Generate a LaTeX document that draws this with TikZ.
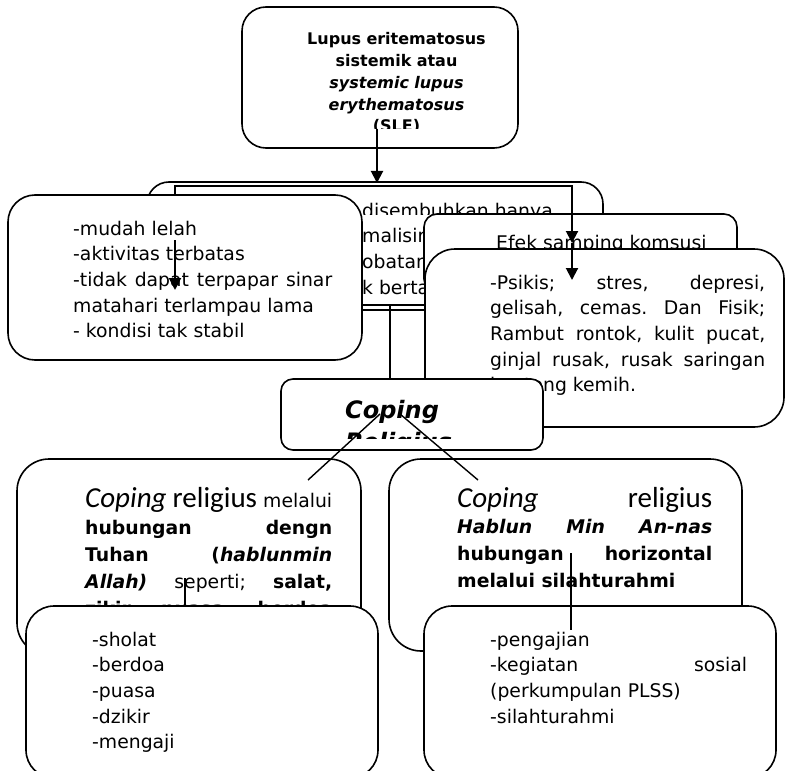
\documentclass[tikz,border=0pt]{standalone}
\usepackage{fontspec}
\setmainfont{DejaVu Sans}[BoldFont={DejaVu Sans Bold},ItalicFont={DejaVu Sans Oblique},BoldItalicFont={DejaVu Sans Bold Oblique}]
\newfontfamily\calfont{Carlito}
\usetikzlibrary{arrows.meta}
\newcommand\jline[2]{\makebox[#1pt][s]{\spaceskip=0pt\xspaceskip=0pt\frenchspacing #2}}
\newcommand\cop[1]{{\calfont\fontsize{29}{29}\selectfont #1}}
\tikzset{
 box/.style={draw, fill=white, line width=1.6pt, inner sep=0pt, outer sep=0pt, rectangle},
 txt/.style={inner sep=0pt, anchor=base west, align=flush left, font=\fontsize{18.8}{25.7}\selectfont},
 arr/.style={line width=2pt, -{Triangle[width=12pt,length=12pt]}},
 ln/.style={line width=1.4pt},
}
\begin{document}
\begin{tikzpicture}[x=1pt,y=-1pt]
\useasboundingbox (0,0) rectangle (786,770);
% behind box
\node[box, rounded corners=22pt, minimum width=456pt, minimum height=128pt] (main) at (375,246) {};
\begin{scope}
\clip (360,190) rectangle (600,214.5);
\node[txt] (m1) at (362,217) {disembuhkan hanya};
\end{scope}
\node[txt] (m2) at (362,242.7) {malisir};
\node[txt] (m3) at (362,268.4) {obatan};
\node[txt] (m4) at (362,294.1) {k berta};
% lower bracket
\coordinate (bb1) at (300,305);
\coordinate (bb2) at (500,305);
\coordinate (bbm) at (390,305);
\coordinate (cpt) at (390,379);
\draw[ln] (bb1) -- (bb2);
\draw[ln] (bbm) -- (cpt);
% left box
\node[box, rounded corners=27pt, minimum width=354pt, minimum height=165pt] (lelah) at (185,277.5) {};
\node[txt, text width=259pt] (lelahtxt) at (73,235) {-mudah lelah\\-aktivitas terbatas\\\jline{259}{-tidak dapat terpapar sinar}\\matahari terlampau lama\\- kondisi tak stabil};
% efek boxes
\node[box, rounded corners=13pt, minimum width=313pt, minimum height=78pt] (efek1) at (580.5,253) {};
\node[txt] (efek1txt) at (496,249) {Efek samping komsusi};
\node[box, rounded corners=30pt, minimum width=359pt, minimum height=178pt] (efek2) at (604.5,338) {};
\node[txt, text width=275pt] (efek2txt) at (490,289) {\jline{275}{-Psikis; stres, depresi,}\\\jline{275}{gelisah, cemas. Dan Fisik;}\\\jline{275}{Rambut rontok, kulit pucat,}\\\jline{275}{ginjal rusak, rusak saringan}\\kantong kemih.};
% coping box
\node[box, rounded corners=12pt, minimum width=262pt, minimum height=71pt] (coping) at (412,414.5) {};
\begin{scope}
\clip (281,379) rectangle (543,438);
\node[txt, text width=200pt, font=\bfseries\itshape\fontsize{24}{32.5}\selectfont] (copingtxt) at (345,418) {Coping\\Religius};
\end{scope}
% top box
\node[box, rounded corners=24pt, minimum width=276pt, minimum height=141pt] (top) at (380,77.5) {};
\begin{scope}
\clip (242,7) rectangle (518,128.5);
\node[inner sep=0pt, anchor=base, text width=220pt, align=center, font=\bfseries\fontsize{16}{21.7}\selectfont] (toptxt) at (396.5,45) {Lupus eritematosus\\sistemik atau\\\textit{systemic lupus}\\\textit{erythematosus}\\(SLE)};
\end{scope}
% bottom left
\node[box, rounded corners=32pt, minimum width=344pt, minimum height=196pt] (bl) at (189,557) {};
\node[txt, text width=247pt, font=\fontsize{18.8}{27.2}\selectfont] (bltxt) at (85,507) {\jline{247}{\cop{\itshape Coping} \cop{religius} melalui}\\\jline{247}{\bfseries hubungan dengn}\\\jline{247}{\bfseries Tuhan (\itshape hablunmin}\\\jline{247}{{\bfseries\itshape Allah)} seperti; {\bfseries salat,}}\\\jline{247}{\bfseries zikir, puasa, berdoa}};
\node[box, rounded corners=28pt, minimum width=352pt, minimum height=172pt] (bls) at (202,692) {};
\node[txt, text width=250pt] (blstxt) at (92,646) {-sholat\\-berdoa\\-puasa\\-dzikir\\-mengaji};
% bottom right
\node[box, rounded corners=32pt, minimum width=353pt, minimum height=192pt] (br) at (565.5,555) {};
\node[txt, text width=255pt, font=\fontsize{18.8}{26.7}\selectfont] (brtxt) at (457,507) {\jline{255}{\cop{\itshape Coping} \cop{religius}}\\\jline{255}{\bfseries\itshape Hablun Min An-nas}\\\jline{255}{\bfseries hubungan horizontal}\\{\bfseries melalui silahturahmi}};
\node[box, rounded corners=28pt, minimum width=352pt, minimum height=172pt] (brs) at (600,692) {};
\node[txt, text width=257pt] (brstxt) at (490,646) {-pengajian\\\jline{257}{-kegiatan sosial}\\(perkumpulan PLSS)\\-silahturahmi};
% connectors
\coordinate (t0) at (377,129);
\coordinate (t1) at (377,183);
\coordinate (s1) at (175,195);
\coordinate (s2) at (175,186);
\coordinate (s3) at (572,186);
\coordinate (s4) at (572,243);
\coordinate (s5) at (572,280);
\coordinate (l0) at (175,240);
\coordinate (l1) at (175,290);
\draw[arr] (t0) -- (t1);
\draw[arr] (s1) -- (s2) -- (s3) -- (s4);
\draw[arr] (s4) -- (s5);
\draw[arr] (l0) -- (l1);
\coordinate (d1) at (380,414);
\coordinate (d2) at (308,480);
\coordinate (d3) at (400,414);
\coordinate (d4) at (478,480);
\draw[ln] (d1) -- (d2);
\draw[ln] (d3) -- (d4);
\coordinate (v1) at (185,578);
\coordinate (v2) at (185,606);
\coordinate (v3) at (571,553);
\coordinate (v4) at (571,630);
\draw[ln] (v1) -- (v2);
\draw[ln] (v3) -- (v4);
\end{tikzpicture}
\end{document}
